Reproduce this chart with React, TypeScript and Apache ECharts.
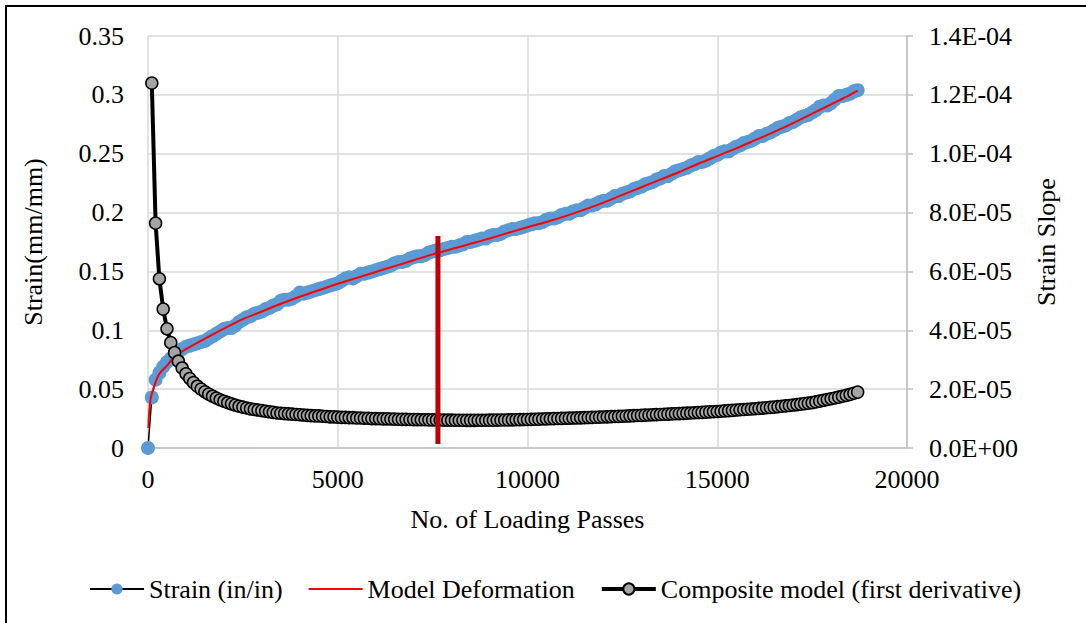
import React, { useEffect, useRef } from "react";
import * as echarts from "echarts";

// Loading passes (x) for the measured strain and the derivative curve
const passes = [
  0, 100, 200, 300, 400, 500, 600, 700, 800, 900,
  1000, 1100, 1200, 1300, 1400, 1500, 1600, 1700, 1800, 1900,
  2000, 2100, 2200, 2300, 2400, 2500, 2600, 2700, 2800, 2900,
  3000, 3100, 3200, 3300, 3400, 3500, 3600, 3700, 3800, 3900,
  4000, 4100, 4200, 4300, 4400, 4500, 4600, 4700, 4800, 4900,
  5000, 5100, 5200, 5300, 5400, 5500, 5600, 5700, 5800, 5900,
  6000, 6100, 6200, 6300, 6400, 6500, 6600, 6700, 6800, 6900,
  7000, 7100, 7200, 7300, 7400, 7500, 7600, 7700, 7800, 7900,
  8000, 8100, 8200, 8300, 8400, 8500, 8600, 8700, 8800, 8900,
  9000, 9100, 9200, 9300, 9400, 9500, 9600, 9700, 9800, 9900,
  10000, 10100, 10200, 10300, 10400, 10500, 10600, 10700, 10800, 10900,
  11000, 11100, 11200, 11300, 11400, 11500, 11600, 11700, 11800, 11900,
  12000, 12100, 12200, 12300, 12400, 12500, 12600, 12700, 12800, 12900,
  13000, 13100, 13200, 13300, 13400, 13500, 13600, 13700, 13800, 13900,
  14000, 14100, 14200, 14300, 14400, 14500, 14600, 14700, 14800, 14900,
  15000, 15100, 15200, 15300, 15400, 15500, 15600, 15700, 15800, 15900,
  16000, 16100, 16200, 16300, 16400, 16500, 16600, 16700, 16800, 16900,
  17000, 17100, 17200, 17300, 17400, 17500, 17600, 17700, 17800, 17900,
  18000, 18100, 18200, 18300, 18400, 18500, 18600, 18700,
];

// Measured strain (in/in), one value per entry of `passes`
const strain = [
  0, 0.043, 0.058, 0.064, 0.069, 0.073, 0.076, 0.079, 0.082, 0.084,
  0.086, 0.087, 0.088, 0.089, 0.09, 0.091, 0.093, 0.095, 0.097, 0.099,
  0.101, 0.102, 0.102, 0.104, 0.107, 0.109, 0.111, 0.112, 0.114, 0.115,
  0.116, 0.118, 0.119, 0.121, 0.122, 0.125, 0.126, 0.126, 0.127, 0.129,
  0.132, 0.131, 0.132, 0.133, 0.134, 0.135, 0.136, 0.137, 0.138, 0.139,
  0.14, 0.142, 0.144, 0.145, 0.144, 0.146, 0.148, 0.148, 0.149, 0.15,
  0.151, 0.152, 0.153, 0.154, 0.155, 0.157, 0.158, 0.158, 0.159, 0.161,
  0.162, 0.163, 0.163, 0.164, 0.166, 0.167, 0.168, 0.168, 0.169, 0.17,
  0.171, 0.171, 0.172, 0.173, 0.175, 0.175, 0.176, 0.177, 0.178, 0.178,
  0.18, 0.181, 0.181, 0.182, 0.184, 0.185, 0.186, 0.186, 0.187, 0.188,
  0.189, 0.19, 0.191, 0.191, 0.192, 0.194, 0.195, 0.195, 0.196, 0.198,
  0.199, 0.199, 0.201, 0.202, 0.202, 0.204, 0.206, 0.206, 0.207, 0.209,
  0.21, 0.21, 0.212, 0.214, 0.214, 0.216, 0.217, 0.218, 0.22, 0.221,
  0.222, 0.224, 0.225, 0.226, 0.228, 0.229, 0.231, 0.231, 0.233, 0.235,
  0.236, 0.237, 0.238, 0.24, 0.241, 0.243, 0.243, 0.244, 0.246, 0.248,
  0.249, 0.251, 0.252, 0.252, 0.254, 0.256, 0.257, 0.259, 0.26, 0.261,
  0.263, 0.265, 0.265, 0.267, 0.268, 0.27, 0.272, 0.273, 0.274, 0.276,
  0.277, 0.279, 0.281, 0.282, 0.283, 0.285, 0.287, 0.29, 0.291, 0.291,
  0.293, 0.296, 0.299, 0.299, 0.3, 0.301, 0.303, 0.304,
];

// Composite model first derivative (strain slope), for passes 100 .. 18700
const slope = [
  1.24e-4, 7.64e-5, 5.75e-5, 4.72e-5, 4.05e-5, 3.58e-5, 3.24e-5, 2.95e-5, 2.72e-5,
  2.52e-5, 2.36e-5, 2.22e-5, 2.1e-5, 2.0e-5, 1.91e-5, 1.83e-5, 1.76e-5, 1.7e-5, 1.64e-5,
  1.59e-5, 1.54e-5, 1.5e-5, 1.46e-5, 1.42e-5, 1.39e-5, 1.36e-5, 1.33e-5, 1.31e-5, 1.29e-5,
  1.27e-5, 1.25e-5, 1.23e-5, 1.21e-5, 1.19e-5, 1.18e-5, 1.17e-5, 1.16e-5, 1.15e-5, 1.14e-5,
  1.13e-5, 1.12e-5, 1.11e-5, 1.1e-5, 1.09e-5, 1.09e-5, 1.08e-5, 1.07e-5, 1.06e-5, 1.06e-5,
  1.05e-5, 1.04e-5, 1.04e-5, 1.03e-5, 1.03e-5, 1.02e-5, 1.02e-5, 1.01e-5, 1.01e-5, 1.0e-5,
  1.0e-5, 9.95e-6, 9.9e-6, 9.9e-6, 9.85e-6, 9.8e-6, 9.77e-6, 9.74e-6, 9.71e-6, 9.68e-6,
  9.65e-6, 9.63e-6, 9.61e-6, 9.59e-6, 9.57e-6, 9.55e-6, 9.53e-6, 9.51e-6, 9.49e-6, 9.47e-6,
  9.45e-6, 9.44e-6, 9.43e-6, 9.42e-6, 9.41e-6, 9.4e-6, 9.41e-6, 9.42e-6, 9.43e-6, 9.44e-6,
  9.45e-6, 9.47e-6, 9.49e-6, 9.51e-6, 9.53e-6, 9.55e-6, 9.58e-6, 9.61e-6, 9.64e-6, 9.67e-6,
  9.7e-6, 9.74e-6, 9.78e-6, 9.82e-6, 9.86e-6, 9.9e-6, 9.94e-6, 9.98e-6, 1.002e-5, 1.006e-5,
  1.01e-5, 1.014e-5, 1.018e-5, 1.022e-5, 1.026e-5, 1.03e-5, 1.035e-5, 1.04e-5, 1.045e-5, 1.05e-5,
  1.055e-5, 1.06e-5, 1.065e-5, 1.07e-5, 1.075e-5, 1.08e-5, 1.086e-5, 1.092e-5, 1.098e-5, 1.104e-5,
  1.11e-5, 1.116e-5, 1.122e-5, 1.128e-5, 1.134e-5, 1.14e-5, 1.146e-5, 1.152e-5, 1.158e-5, 1.164e-5,
  1.17e-5, 1.177e-5, 1.184e-5, 1.191e-5, 1.198e-5, 1.205e-5, 1.212e-5, 1.219e-5, 1.226e-5, 1.233e-5,
  1.24e-5, 1.25e-5, 1.26e-5, 1.27e-5, 1.28e-5, 1.29e-5, 1.299e-5, 1.308e-5, 1.317e-5, 1.326e-5,
  1.335e-5, 1.346e-5, 1.357e-5, 1.368e-5, 1.379e-5, 1.39e-5, 1.404e-5, 1.418e-5, 1.432e-5, 1.446e-5,
  1.46e-5, 1.476e-5, 1.492e-5, 1.508e-5, 1.524e-5, 1.54e-5, 1.567e-5, 1.594e-5, 1.621e-5, 1.648e-5,
  1.675e-5, 1.7e-5, 1.73e-5, 1.76e-5, 1.79e-5, 1.82e-5, 1.86e-5, 1.9e-5,
];

// Model deformation curve
const modelPasses = [
  10, 30, 60, 100, 200, 300, 500, 700, 1000, 1500, 2000, 2500, 3000, 3500, 4000,
  4500, 5000, 5500, 6000, 6500, 7000, 7500, 8000, 8500, 9000, 9500, 10000, 10500,
  11000, 11500, 12000, 12500, 13000, 13500, 14000, 14500, 15000, 15500, 16000,
  16500, 17000, 17500, 18000, 18500, 18700,
];
const modelStrain = [
  0.017, 0.03, 0.04, 0.046, 0.056, 0.063, 0.07, 0.0775, 0.084, 0.093, 0.1015, 0.1095,
  0.116, 0.1225, 0.1285, 0.134, 0.1395, 0.1445, 0.1495, 0.1545, 0.1595, 0.1645, 0.169,
  0.1735, 0.178, 0.1828, 0.1875, 0.192, 0.197, 0.2025, 0.2085, 0.215, 0.2215, 0.228,
  0.2345, 0.2415, 0.248, 0.2545, 0.2615, 0.2685, 0.276, 0.284, 0.292, 0.3, 0.3035,
];

// Vertical marker at the minimum slope
const markerPasses = [7640, 7640];
const markerStrain = [0.0035, 0.18];

const seriesNames = ["Strain (in/in)", "Model Deformation", "Composite model (first derivative)"];

const FONT = "'Liberation Serif', 'Times New Roman', serif";

export default function App() {
  const ref = useRef<HTMLDivElement>(null);
  useEffect(() => {
    if (!ref.current) return;
    const chart = echarts.init(ref.current, undefined, { renderer: "svg" });
    const grid = "#D9D9D9";
    const axisC = "#BFBFBF";
    chart.setOption({
      animation: false,
      textStyle: { fontFamily: FONT },
      graphic: [
        {
          type: "rect",
          silent: true,
          z: -10,
          shape: { x: 6, y: 6, width: 1300, height: 900 },
          style: { fill: "none", stroke: "#000", lineWidth: 2 },
        },
      ],
      grid: { left: 148, right: 179, top: 36, bottom: 175 },
      legend: {
        data: [
          { name: seriesNames[0], lineStyle: { width: 2, color: "#000" } },
          { name: seriesNames[1], itemStyle: { opacity: 0 }, lineStyle: { width: 2, color: "#FF0000" } },
          { name: seriesNames[2], lineStyle: { width: 4, color: "#000" } },
        ],
        top: 571,
        left: 84,
        itemWidth: 54,
        itemHeight: 14,
        itemGap: 25,
        textStyle: { fontSize: 26, fontFamily: FONT, color: "#000" },
      },
      xAxis: {
        type: "value",
        min: 0,
        max: 20000,
        interval: 5000,
        name: "No. of Loading Passes",
        nameLocation: "middle",
        nameGap: 58,
        nameTextStyle: { fontSize: 26, fontFamily: FONT, color: "#000" },
        axisLine: { show: true, lineStyle: { color: axisC, width: 1.5 } },
        axisTick: { show: false },
        axisLabel: {
          fontSize: 26,
          fontFamily: FONT,
          color: "#000",
          margin: 18,
          formatter: (v: number) => String(v),
        },
        splitLine: { show: true, lineStyle: { color: grid, width: 1.5 } },
      },
      yAxis: [
        {
          type: "value",
          min: 0,
          max: 0.35,
          interval: 0.05,
          name: "Strain(mm/mm)",
          nameLocation: "middle",
          nameRotate: 90,
          nameGap: 102,
          nameTextStyle: { fontSize: 26, fontFamily: FONT, color: "#000" },
          axisLine: { show: false },
          axisTick: { show: false },
          axisLabel: {
            fontSize: 26,
            fontFamily: FONT,
            color: "#000",
            margin: 24,
            formatter: (v: number) => String(+v.toFixed(2)),
          },
          splitLine: { show: true, lineStyle: { color: grid, width: 1.5 } },
        },
        {
          type: "value",
          position: "right",
          min: 0,
          max: 1.4e-4,
          interval: 2e-5,
          name: "Strain Slope",
          nameLocation: "middle",
          nameRotate: 90,
          nameGap: 126,
          nameTextStyle: { fontSize: 26, fontFamily: FONT, color: "#000" },
          axisLine: { show: true, lineStyle: { color: axisC, width: 1.5 } },
          axisTick: { show: true, inside: false, length: 6, lineStyle: { color: axisC, width: 1.5 } },
          axisLabel: {
            fontSize: 26,
            fontFamily: FONT,
            color: "#000",
            margin: 22,
            formatter: (v: number) => {
              const s = v.toExponential(1).toUpperCase();
              return s.replace(/E([+-])(\d)$/, "E$10$2");
            },
          },
          splitLine: { show: false },
        },
      ],
      series: [
        {
          name: seriesNames[0],
          type: "line",
          data: passes.map((p, i) => [p, strain[i]]),
          symbol: "circle",
          symbolSize: 14,
          showSymbol: true,
          itemStyle: { color: "#5B9BD5", borderWidth: 0 },
          lineStyle: { color: "#000", width: 1.5 },
          z: 2,
        },
        {
          name: seriesNames[1],
          type: "line",
          data: modelPasses.map((p, i) => [p, modelStrain[i]]),
          symbol: "none",
          smooth: 0.3,
          itemStyle: { color: "#FF0000" },
          lineStyle: { color: "#FF0000", width: 2 },
          z: 3,
        },
        {
          name: seriesNames[2],
          type: "line",
          yAxisIndex: 1,
          data: passes.slice(1).map((p, i) => [p, slope[i]]),
          symbol: "circle",
          symbolSize: 12,
          showSymbol: true,
          itemStyle: { color: "#A5A5A5", borderColor: "#000", borderWidth: 1.5 },
          lineStyle: { color: "#000", width: 4 },
          z: 4,
        },
        {
          name: "Minimum slope",
          type: "line",
          data: markerPasses.map((p, i) => [p, markerStrain[i]]),
          symbol: "none",
          itemStyle: { color: "#C00000" },
          lineStyle: { color: "#C00000", width: 5 },
          z: 5,
        },
      ],
    });
    return () => chart.dispose();
  }, []);
  return (
    <div
      ref={ref}
      style={{ position: "absolute", left: 0, top: 0, width: 1086, height: 623, background: "#fff" }}
    />
  );
}
